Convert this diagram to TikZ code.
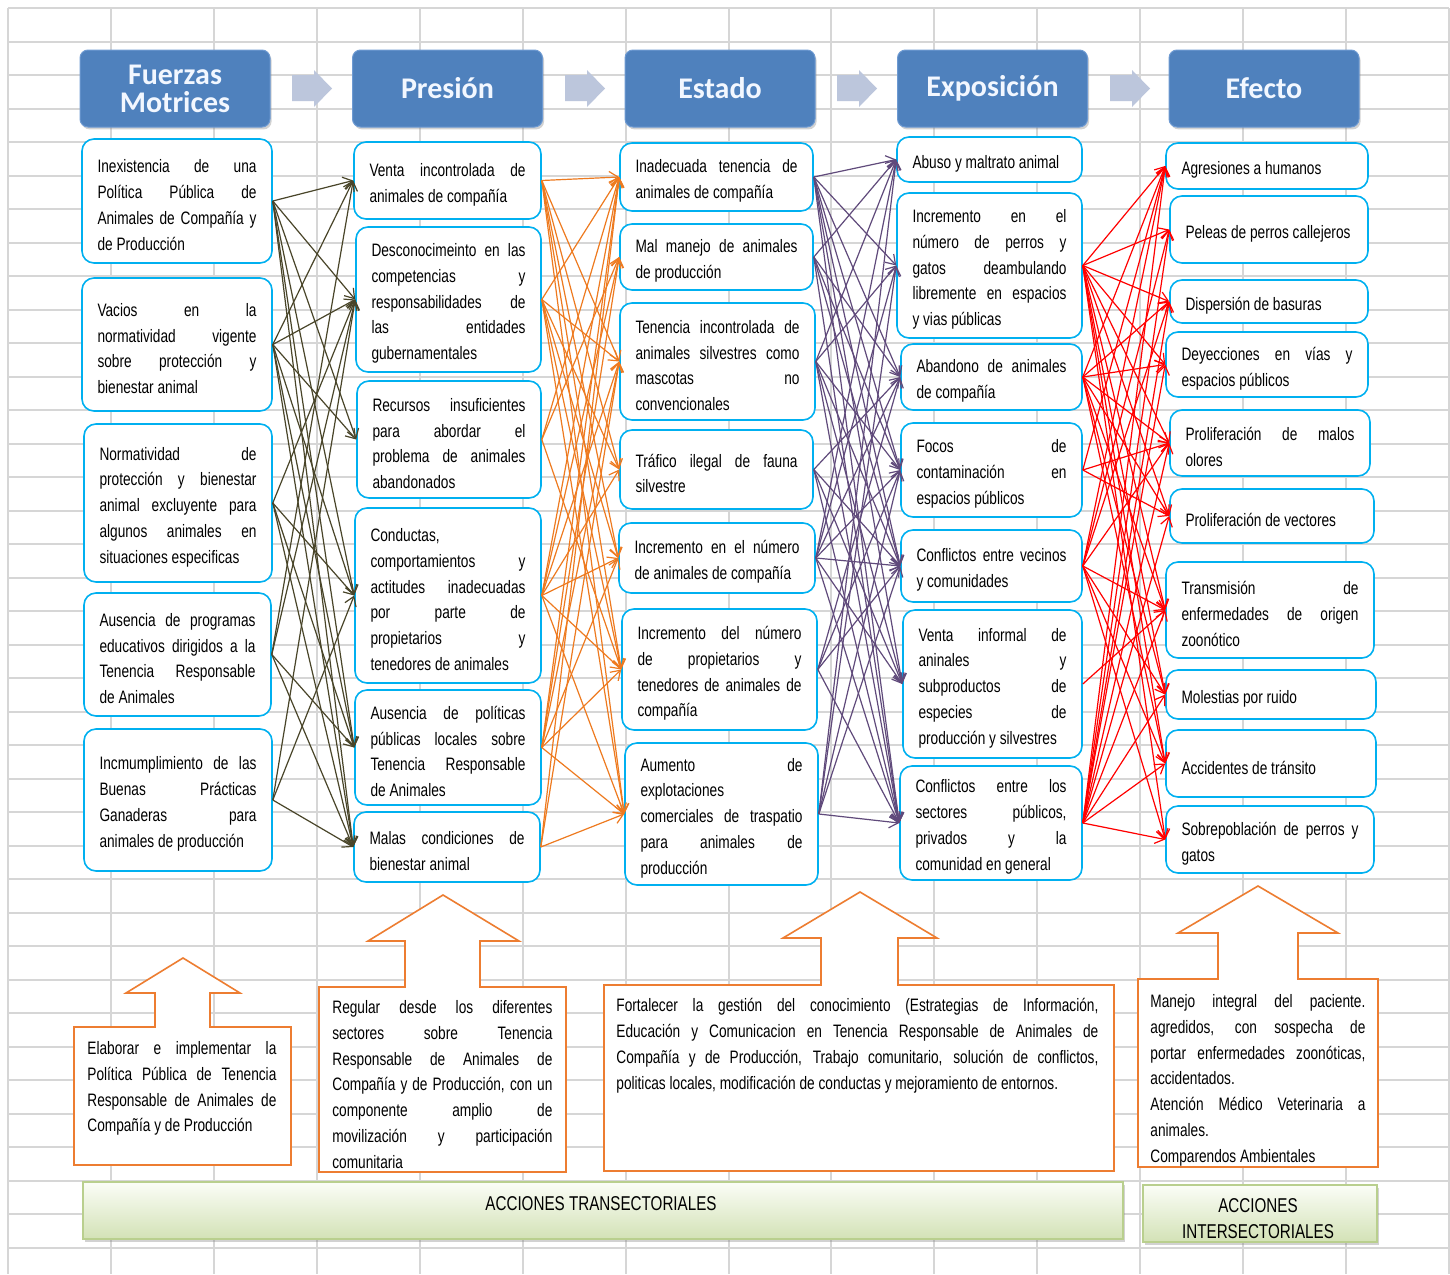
\documentclass[tikz,border=0pt]{standalone}
\usepackage{fontspec}
\setmainfont{Liberation Sans}[FakeStretch=0.76]
\newfontfamily\hdrfont{Carlito}
\usetikzlibrary{arrows.meta,shadows}
\definecolor{boxcyan}{HTML}{00B0F0}
\definecolor{olivec}{HTML}{494529}
\definecolor{orangec}{HTML}{EE7A1F}
\definecolor{purplec}{HTML}{604A7B}
\definecolor{redc}{HTML}{FF0000}
\definecolor{coutc}{HTML}{ED7D31}
\definecolor{gridc}{HTML}{D6D6D6}
\definecolor{hdrfill}{HTML}{4F81BD}
\definecolor{hdrline}{HTML}{6E9AD2}
\definecolor{hdrtext}{HTML}{F2F7FF}
\definecolor{harrc}{HTML}{BCC6DC}
\definecolor{gtop}{HTML}{FBFDF7}
\definecolor{gbot}{HTML}{D3E2B6}
\definecolor{gline}{HTML}{B9CF8E}
\newcommand\txtfont{\fontsize{9}{12.9}\selectfont\tolerance=10000\hbadness=10000\hyphenpenalty=10000\exhyphenpenalty=10000\relax}
\newcommand\cbx[6]{%
 \pgfmathsetmacro\bxw{(#4-#2)*0.5}%
 \pgfmathsetmacro\bxh{(#5-#3)*0.5}%
 \pgfmathsetmacro\bxt{(#4-#2-31)*0.5}%
 \node[cbox, minimum width=\bxw pt, minimum height=\bxh pt] (#1) at ({(#2+#4)/2},{(#3+#5)/2}) {};
 \node[boxtext, text width=\bxt pt] (#1t) at ({(#2+#4)/2},{(#3+#5)/2+4}) {#6};}
\newcommand\harrow[1]{%
 \fill[harrc] (#1,75) -- ({#1+22},75) -- ({#1+22},70) -- ({#1+40},88.5) -- ({#1+22},107) -- ({#1+22},101) -- (#1,101) -- cycle;}
\newcommand\callout[9]{%
 \def\cA{#1}\def\cB{#2}\def\cC{#3}\def\cD{#4}\def\cE{#5}\def\cF{#6}\def\cG{#7}\def\cH{#8}\def\cI{#9}\coutb}
\newcommand\coutb[2]{%
 \draw[cout] (\cA,\cB) -- (\cE,\cB) -- (\cE,#1) -- (\cG,#1) -- (\cI,#2) -- (\cH,#1) -- (\cF,#1) -- (\cF,\cB) -- (\cC,\cB) -- (\cC,\cD) -- (\cA,\cD) -- cycle;}
\tikzset{
 cbox/.style={draw=boxcyan, line width=0.8pt, rounded corners=6pt, fill=white, inner sep=0pt},
 boxtext/.style={font=\txtfont, align=justify, inner sep=0pt},
 hdr/.style={draw=hdrline, line width=0.5pt, fill=hdrfill, rounded corners=4pt, text=hdrtext, align=center,
   font=\hdrfont\bfseries\fontsize{15}{14}\selectfont, minimum width=95pt, minimum height=38.5pt, inner sep=0pt,
   drop shadow={opacity=0.35, shadow xshift=0.8pt, shadow yshift=-1.2pt}},
 gridl/.style={draw=gridc, line width=1pt},
 cout/.style={draw=coutc, line width=0.8pt, fill=white},
 ctext/.style={font=\txtfont, align=justify, inner sep=0pt, anchor=north west},
 gbar/.style={draw=gline, line width=0.6pt, top color=gtop, bottom color=gbot, inner sep=0pt,
   drop shadow={opacity=0.35, shadow xshift=1pt, shadow yshift=-1.5pt}},
 bartext/.style={align=center, inner sep=0pt, font=\fontsize{10}{13}\selectfont},
 tip/.style={-{Straight Barb[length=4.5pt,width=6pt]}, line width=0.6pt},
 arrolive/.style={tip, draw=olivec},
 arrorange/.style={tip, draw=orangec},
 arrpurple/.style={tip, draw=purplec},
 arrred/.style={tip, draw=redc}
}
\begin{document}
\begin{tikzpicture}[x=0.5pt,y=-0.5pt]
\useasboundingbox (0,0) rectangle (1450,1274);
\fill[white] (0,0) rectangle (1450,1274);
% spreadsheet grid
\foreach \k in {0,...,37} \draw[gridl] (8,{8+33.5*\k}) -- (1449,{8+33.5*\k});
\foreach \k in {0,...,14} \draw[gridl] ({8+102.93*\k},8) -- ({8+102.93*\k},1274);

% headers
\node[hdr] (h1) at (175,88.5) {Fuerzas\\Motrices};
\node[hdr] (h2) at (447.5,88.5) {Presión};
\node[hdr] (h3) at (720,88.5) {Estado};
\node[hdr] (h4) at (992.5,88.5) {Exposición};
\node[hdr] (h5) at (1264,88.5) {Efecto};
\harrow{292}\harrow{565}\harrow{837}\harrow{1110}

% column 1
\cbx{a1}{82}{139}{272}{263}{Inexistencia de una\linebreak Política Pública de\linebreak Animales de Compañía y\linebreak de Producción}
\cbx{a2}{82}{278}{272}{411}{Vacios en la\linebreak normatividad vigente\linebreak sobre protección y\linebreak bienestar animal}
\cbx{a3}{84}{424}{272}{582}{Normatividad de\linebreak protección y bienestar\linebreak animal excluyente para\linebreak algunos animales en\linebreak situaciones especificas}
\cbx{a4}{84}{593}{271}{716}{Ausencia de programas\linebreak educativos dirigidos a la\linebreak Tenencia Responsable\linebreak de Animales}
\cbx{a5}{84}{729}{272}{871}{Incmumplimiento de las\linebreak Buenas Prácticas\linebreak Ganaderas para\linebreak animales de producción}

% column 2
\cbx{b1}{354}{142}{541}{219}{Venta incontrolada de\linebreak animales de compañía}
\cbx{b2}{356}{227}{541}{372}{Desconocimeinto en las\linebreak competencias y\linebreak responsabilidades de\linebreak las entidades\linebreak gubernamentales}
\cbx{b3}{357}{381}{541}{498}{Recursos insuficientes\linebreak para abordar el\linebreak problema de animales\linebreak abandonados}
\cbx{b4}{355}{508}{541}{683}{Conductas,\linebreak comportamientos y\linebreak actitudes inadecuadas\linebreak por parte de\linebreak propietarios y\linebreak tenedores de animales}
\cbx{b5}{355}{690}{541}{805}{Ausencia de políticas\linebreak públicas locales sobre\linebreak Tenencia Responsable\linebreak de Animales}
\cbx{b6}{354}{812}{540}{882}{Malas condiciones de\linebreak bienestar animal}

% column 3
\cbx{c1}{620}{143}{813}{211}{Inadecuada tenencia de\linebreak animales de compañía}
\cbx{c2}{620}{224}{813}{290}{Mal manejo de animales\linebreak de producción}
\cbx{c3}{620}{303}{815}{420}{Tenencia incontrolada de\linebreak animales silvestres como\linebreak mascotas no\linebreak convencionales}
\cbx{c4}{620}{430}{813}{509}{Tráfico ilegal de fauna\linebreak silvestre}
\cbx{c5}{619}{523}{815}{593}{Incremento en el número\linebreak de animales de compañía}
\cbx{c6}{622}{609}{817}{730}{Incremento del número\linebreak de propietarios y\linebreak tenedores de animales de\linebreak compañía}
\cbx{c7}{625}{743}{818}{885}{Aumento de\linebreak explotaciones\linebreak comerciales de traspatio\linebreak para animales de\linebreak producción}

% column 4
\cbx{d1}{897}{137}{1082}{182}{Abuso y maltrato animal}
\cbx{d2}{897}{193}{1082}{338}{Incremento en el\linebreak número de perros y\linebreak gatos deambulando\linebreak libremente en espacios\linebreak y vias públicas}
\cbx{d3}{901}{344}{1082}{410}{Abandono de animales\linebreak de compañía}
\cbx{d4}{901}{423}{1082}{517}{Focos de\linebreak contaminación en\linebreak espacios públicos}
\cbx{d5}{901}{530}{1082}{602}{Conflictos entre vecinos\linebreak y comunidades}
\cbx{d6}{903}{610}{1082}{758}{Venta informal de\linebreak aninales y\linebreak subproductos de\linebreak especies de\linebreak producción y silvestres}
\cbx{d7}{900}{766}{1082}{880}{Conflictos entre los\linebreak sectores públicos,\linebreak privados y la\linebreak comunidad en general}

% column 5
\cbx{e1}{1166}{143}{1368}{189}{Agresiones a humanos}
\cbx{e2}{1170}{196}{1368}{263}{Peleas de perros callejeros}
\cbx{e3}{1170}{280}{1368}{323}{Dispersión de basuras}
\cbx{e4}{1166}{332}{1368}{397}{Deyecciones en vías y\linebreak espacios públicos}
\cbx{e5}{1170}{410}{1370}{476}{Proliferación de malos\linebreak olores}
\cbx{e6}{1170}{489}{1374}{543}{Proliferación de vectores}
\cbx{e7}{1166}{562}{1374}{658}{Transmisión de\linebreak enfermedades de origen\linebreak zoonótico}
\cbx{e8}{1166}{670}{1376}{719}{Molestias por ruido}
\cbx{e9}{1166}{730}{1376}{797}{Accidentes de tránsito}
\cbx{e10}{1166}{806}{1374}{873}{Sobrepoblación de perros y\linebreak gatos}

% connectors
\foreach \s/\tl in {a1/{b1,b2,b3,b4,b5,b6}, a2/{b1,b2,b3,b4,b5,b6}, a3/{b2,b4,b5,b6}, a4/{b1,b2,b5,b6}, a5/{b2,b4,b6}}
  \foreach \t in \tl \draw[arrolive] (\s.east) -- (\t.west);
\foreach \s/\tl in {b1/{c1,c3,c4,c5,c6,c7}, b2/{c1,c3,c4,c5,c6,c7}, b3/{c1,c2,c6}, b4/{c1,c2,c3,c4,c5,c6,c7}, b5/{c1,c2,c3,c5,c6,c7}, b6/{c1,c3,c7}}
  \foreach \t in \tl \draw[arrorange] (\s.east) -- (\t.west);
\foreach \s/\tl in {c1/{d1,d2,d3,d4,d5,d6,d7}, c2/{d1,d3,d4,d5,d7}, c3/{d1,d2,d4,d5,d6,d7}, c4/{d3,d5,d6,d7}, c5/{d1,d2,d3,d4,d5,d6,d7}, c6/{d3,d4,d5,d7}, c7/{d1,d2,d4,d5,d7}}
  \foreach \t in \tl \draw[arrpurple] (\s.east) -- (\t.west);
\foreach \s/\tl in {d2/{e1,e2,e3,e4,e5,e6,e7,e8,e9,e10}, d3/{e1,e3,e4,e5,e6,e7,e8,e9}, d4/{e1,e5,e6}, d5/{e1,e2,e3,e5,e7,e8,e9,e10}, d6/{e7}, d7/{e1,e2,e3,e4,e5,e6,e7,e8,e9,e10}}
  \foreach \t in \tl \draw[arrred] (\s.east) -- (\t.west);

% callouts
\callout{74}{1027}{291}{1165}{155}{210}{126}{240}{183}{993}{958}
\callout{319}{987}{566}{1172}{405}{480}{368}{519}{443}{941}{895}
\callout{604}{985}{1114}{1171}{821}{898}{783}{937}{860}{938}{892}
\callout{1138}{979}{1378}{1167}{1218}{1298}{1178}{1338}{1258}{933}{886}

\node[ctext, text width=94.5pt] (t1) at (87,1041) {Elaborar e implementar la\linebreak Política Pública de Tenencia\linebreak Responsable de Animales de\linebreak Compañía y de Producción};
\node[ctext, text width=110pt] (t2) at (332,1000) {Regular desde los diferentes\linebreak sectores sobre Tenencia\linebreak Responsable de Animales de\linebreak Compañía y de Producción, con un\linebreak componente amplio de\linebreak movilización y participación\linebreak comunitaria};
\node[ctext, text width=241pt] (t3) at (616,998) {Fortalecer la gestión del conocimiento (Estrategias de Información,\linebreak Educación y Comunicacion en Tenencia Responsable de Animales de\linebreak Compañía y de Producción, Trabajo comunitario, solución de conflictos,\linebreak politicas locales, modificación de conductas y mejoramiento de entornos.};
\node[ctext, text width=107.5pt] (t4) at (1150,994) {Manejo integral del paciente.\linebreak agredidos, con sospecha de\linebreak portar enfermedades zoonóticas,\linebreak accidentados.\par Atención Médico Veterinaria a\linebreak animales.\par Comparendos Ambientales};

% bottom bars
\node[gbar, minimum width=520pt, minimum height=28.5pt] (g1) at (603,1210.5) {};
\node[bartext] (g1t) at (601,1204) {ACCIONES TRANSECTORIALES};
\node[gbar, minimum width=117pt, minimum height=28.5pt] (g2) at (1260,1213.5) {};
\node[bartext] (g2t) at (1258,1219) {ACCIONES\\INTERSECTORIALES};
\end{tikzpicture}
\end{document}
